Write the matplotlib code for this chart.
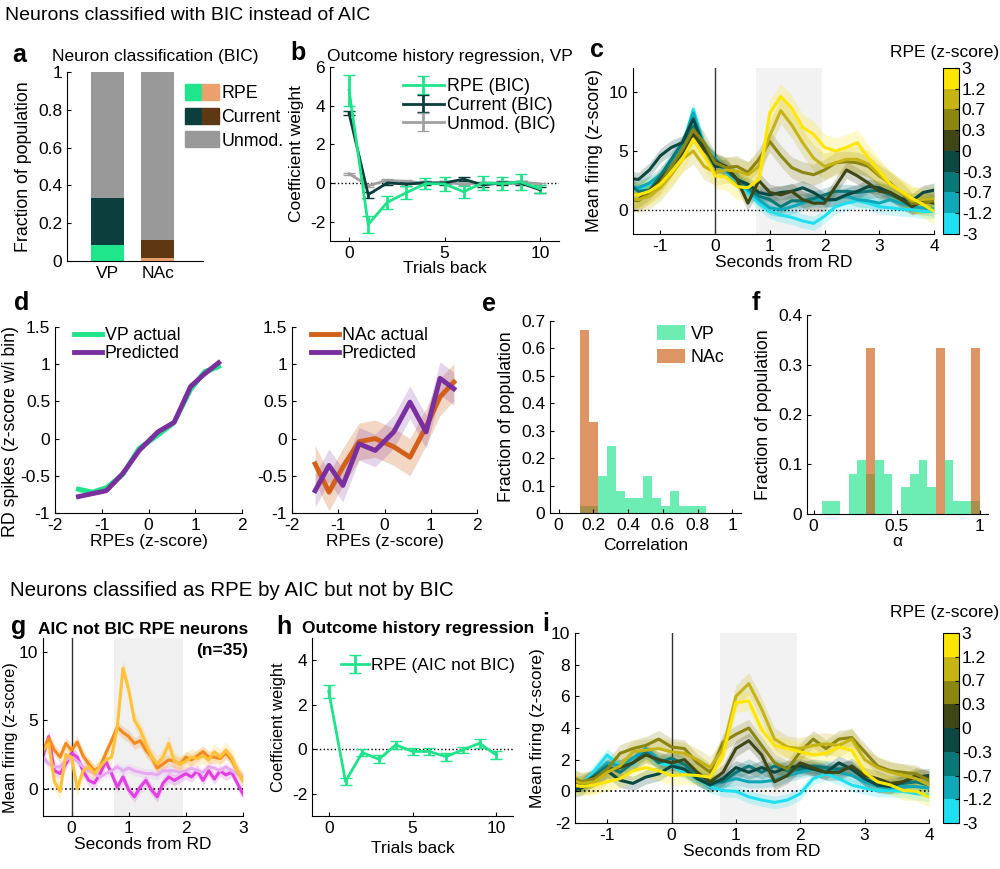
import numpy as np
import matplotlib
matplotlib.use('Agg')
import matplotlib.pyplot as plt
from matplotlib.patches import Patch
from matplotlib.legend_handler import HandlerTuple
from matplotlib.colors import ListedColormap, BoundaryNorm
from matplotlib.cm import ScalarMappable

plt.rcParams['font.family'] = ['Liberation Sans', 'DejaVu Sans']
plt.rcParams['font.size'] = 12.5
plt.rcParams['axes.unicode_minus'] = False
plt.rcParams['axes.linewidth'] = 0.8
plt.rcParams['xtick.direction'] = 'in'
plt.rcParams['ytick.direction'] = 'in'
plt.rcParams['xtick.major.size'] = 3
plt.rcParams['ytick.major.size'] = 3

# ---------------- data ----------------
# a: neuron classification
regions = ['VP', 'NAc']
frac_rpe = [0.085, 0.015]
frac_current = [0.25, 0.095]
frac_unmod = [0.665, 0.89]

# b: outcome history regression, VP
trials = np.arange(11)
b_rpe = [4.8, -2.15, -1.0, -0.5, -0.03, -0.05, -0.45, 0.0, -0.03, 0.05, -0.3]
b_rpe_err = [0.8, 0.45, 0.35, 0.35, 0.3, 0.35, 0.3, 0.35, 0.35, 0.4, 0.2]
b_cur = [3.6, -0.6, 0.0, -0.05, 0.0, 0.0, 0.2, -0.1, 0.0, 0.0, -0.35]
b_cur_err = [0.1, 0.15, 0.08, 0.08, 0.08, 0.08, 0.12, 0.1, 0.08, 0.08, 0.15]
b_unmod = [0.48, -0.14, 0.14, 0.08, 0.0, 0.02, -0.05, 0.0, 0.0, 0.05, -0.05]
b_unmod_err = [0.05, 0.05, 0.05, 0.05, 0.05, 0.05, 0.05, 0.05, 0.05, 0.05, 0.05]

# c / i: PSTHs by RPE bin (low -> high)
t_psth = np.round(np.arange(-1.6, 4.01, 0.2), 1)
rpe_bounds = [-3, -1.2, -0.7, -0.3, 0, 0.3, 0.7, 1.2, 3]
rpe_labels = ['-3', '-1.2', '-0.7', '-0.3', '0', '0.3', '0.7', '1.2', '3']
rpe_colors = ['#1ee0f0', '#10a8b8', '#0b7878', '#0c4842',
              '#3e4616', '#8a8610', '#c6b414', '#ffe600']
c_traces = [
    [2.0, 1.7, 2.2, 2.7, 3.9, 5.3, 8.5, 5.5, 4.3, 3.2, 2.5, 1.5, 0.6, -0.1, -0.4, -0.6, -0.9, -1.1, -0.5, 0.3, 0.6, 0.8, 0.6, 0.3, 0.2, 0.1, 0.05, -0.1, -0.1],
    [2.0, 1.9, 2.3, 3.0, 4.0, 5.4, 8.2, 5.4, 4.0, 3.3, 2.6, 1.7, 0.9, 0.2, 0.05, 0.3, 0.6, 0.9, 0.8, 0.9, 1.2, 0.9, 0.8, 0.6, 0.9, 0.6, 0.3, 0.2, 0.1],
    [2.3, 1.6, 1.7, 2.9, 4.3, 5.7, 7.1, 5.1, 4.3, 3.4, 2.6, 1.9, 1.2, 0.9, 0.3, 0.8, 0.8, 1.0, 1.3, 1.6, 1.6, 1.5, 1.6, 1.7, 1.3, 0.9, 0.6, 0.9, 1.0],
    [2.7, 2.6, 3.4, 4.6, 5.3, 5.7, 7.7, 5.4, 3.7, 3.7, 2.6, 2.2, 1.5, 1.3, 1.5, 1.6, 1.9, 1.5, 0.9, 0.9, 1.3, 1.6, 2.0, 1.9, 1.5, 1.0, 0.8, 1.5, 1.7],
    [0.8, 0.9, 1.6, 2.6, 3.7, 4.8, 6.4, 5.1, 4.1, 3.7, 2.6, 0.6, 2.5, 1.5, 1.3, 1.6, 0.9, 0.6, 0.6, 2.0, 3.4, 2.9, 2.3, 1.6, 1.5, 0.9, 0.3, 0.8, 0.6],
    [0.9, 0.8, 1.5, 2.3, 3.7, 5.1, 6.8, 5.7, 4.0, 3.6, 3.7, 3.2, 4.3, 5.8, 4.6, 3.6, 3.2, 3.0, 3.4, 4.0, 4.1, 4.0, 3.7, 2.9, 2.3, 1.5, 0.6, 0.6, 0.8],
    [1.0, 0.9, 1.2, 1.9, 3.0, 4.3, 5.0, 3.7, 3.2, 3.4, 3.3, 3.0, 3.7, 6.3, 8.4, 7.2, 5.7, 4.4, 3.7, 4.0, 4.3, 4.3, 3.9, 3.0, 2.2, 1.5, 0.8, 0.9, 1.0],
    [1.3, 1.3, 1.6, 2.2, 3.2, 4.3, 6.0, 4.6, 2.9, 2.8, 2.0, 1.9, 2.6, 8.2, 9.6, 8.6, 7.0, 6.4, 5.3, 5.0, 5.3, 5.7, 4.4, 3.3, 2.2, 1.6, 1.0, 0.5, -0.1],
]
c_sem = [0.6, 0.6, 0.6, 0.6, 0.7, 0.9, 1.1, 1.1]

i_traces = [
    [0.4, 0.4, 1.3, 2.3, 1.6, 1.7, 2.5, 1.8, 1.6, 1.2, 0.8, 0.3, 0.05, 0.0, -0.35, -0.55, -0.7, -0.55, -0.15, 0.8, 1.1, 0.8, 0.4, 0.2, 0.05, 0.05, 0.0, -0.15, -0.25],
    [0.5, 0.4, 1.0, 1.8, 1.6, 2.1, 2.7, 2.0, 1.8, 1.4, 0.8, 0.4, 0.6, 0.8, 0.6, 0.6, 0.7, 1.0, 1.2, 1.4, 1.5, 1.2, 1.0, 0.6, 0.3, 0.2, 0.3, 0.3, 0.2],
    [0.6, 0.4, 1.0, 1.6, 1.2, 1.8, 2.5, 1.8, 2.1, 1.7, 1.0, 0.6, 0.6, 1.2, 1.6, 1.2, 1.6, 1.3, 1.4, 1.6, 1.5, 1.4, 1.5, 0.8, 0.4, 0.4, 0.5, 0.6, 0.4],
    [0.0, 0.2, 0.8, 1.3, 0.7, 0.5, 0.9, 1.1, 1.6, 1.4, 0.8, 0.4, 0.8, 1.5, 1.2, 1.5, 1.2, 1.5, 1.6, 1.4, 1.2, 1.8, 1.4, 0.8, 0.4, 0.3, 0.6, 0.9, 1.0],
    [0.4, 0.5, 0.9, 1.3, 1.5, 1.8, 2.3, 2.0, 1.8, 2.0, 1.2, 0.6, 1.2, 2.7, 3.2, 2.3, 0.6, 1.0, 1.8, 1.5, 1.2, 1.2, 1.6, 1.0, 0.8, 0.5, 0.6, 1.0, 0.8],
    [1.0, 0.6, 0.8, 1.4, 2.4, 2.7, 2.9, 3.3, 2.8, 2.7, 1.8, 1.2, 3.1, 3.6, 4.0, 2.9, 1.8, 1.4, 2.5, 3.3, 2.7, 3.3, 3.4, 2.5, 1.6, 1.3, 1.2, 1.1, 0.7],
    [0.8, 0.5, 0.6, 1.2, 1.6, 2.5, 2.6, 2.7, 2.5, 2.4, 2.0, 1.5, 2.7, 6.0, 6.8, 5.2, 3.3, 2.8, 2.7, 2.9, 3.0, 2.9, 3.3, 2.0, 1.5, 1.2, 1.0, 0.8, 0.4],
    [0.5, 0.3, 0.4, 0.6, 0.8, 1.3, 1.5, 1.3, 1.0, 1.05, 1.0, 0.9, 2.3, 5.6, 5.7, 3.9, 2.9, 2.7, 2.5, 2.3, 2.4, 2.8, 2.6, 1.2, 0.6, 0.4, 0.05, 0.0, -0.35],
]
i_sem = [0.4, 0.4, 0.45, 0.45, 0.5, 0.55, 0.7, 0.6]

# d: RPE tuning
rpe_bins = [-1.5, -1.2, -0.9, -0.55, -0.2, 0.2, 0.55, 0.9, 1.2, 1.5]
vp_actual = [-0.68, -0.72, -0.66, -0.48, -0.13, 0.05, 0.22, 0.66, 0.90, 0.97]
vp_pred = [-0.78, -0.74, -0.70, -0.47, -0.16, 0.09, 0.22, 0.70, 0.87, 1.02]
nac_actual = [-0.34, -0.72, -0.38, -0.04, 0.0, -0.11, -0.25, 0.16, 0.56, 0.76]
nac_pred = [-0.70, -0.36, -0.63, -0.07, -0.16, 0.09, 0.49, 0.09, 0.81, 0.67]

# e: correlation histogram
e_bin_start, e_bin_w = 0.123, 0.052
e_vp = [0.027, 0.027, 0.135, 0.243, 0.081, 0.054, 0.054, 0.135, 0.054, 0.027, 0.081, 0.027, 0.027, 0.027]
e_nac = [0.667, 0.333]

# f: alpha histogram (bins of 1/19)
f_vp = [0, 0.027, 0.027, 0, 0.081, 0.108, 0.081, 0.108, 0.081, 0, 0.054, 0.081, 0.108, 0.054, 0, 0.108, 0.027, 0.027, 0.027]
f_nac = [0, 0, 0, 0, 0, 0, 0.333, 0, 0, 0, 0, 0, 0, 0, 0.333, 0, 0, 0, 0.333]

# g: AIC-not-BIC RPE neurons
t_g = np.round(np.arange(-0.5, 3.01, 0.1), 1)
g_traces = [
    [2.4, 3.8, 1.3, 1.1, 1.8, 2.6, 2.3, 1.3, 0.6, 0.4, 1.1, 2.0, 1.1, 0.1, 0.85, -0.1, -0.6, 0.1, 0.6, -0.1, -0.6, 0.4, 0.85, 0.6, 0.85, 1.1, 0.85, 1.3, 0.6, 1.3, 0.7, 1.3, 1.0, 1.2, 0.4, -0.4],
    [2.3, 1.8, 1.6, 1.6, 2.1, 2.3, 2.0, 1.6, 1.3, 1.1, 0.85, 1.1, 1.3, 1.6, 1.3, 1.5, 1.3, 1.2, 1.1, 1.1, 1.0, 1.3, 1.3, 1.3, 1.2, 1.3, 1.5, 1.3, 1.2, 1.6, 1.5, 1.3, 1.6, 1.3, 1.1, 0.85],
    [2.7, 3.7, 2.8, 2.3, 3.3, 2.8, 3.4, 2.4, 1.8, 1.3, 1.6, 2.6, 3.5, 4.5, 4.1, 3.8, 3.3, 3.5, 2.8, 2.3, 1.5, 1.8, 2.1, 2.0, 1.8, 2.3, 2.1, 2.4, 2.7, 2.3, 2.3, 2.2, 2.6, 2.1, 1.3, 0.6],
    [2.8, 3.3, 0.5, -0.2, 2.5, 2.3, 0.0, 1.3, 1.6, 1.1, 1.6, 2.1, 2.3, 4.5, 8.8, 7.2, 5.0, 4.3, 3.3, 2.3, 1.8, 2.3, 3.3, 2.0, 1.8, 2.0, 2.3, 2.2, 2.4, 2.1, 2.7, 2.3, 2.8, 2.3, 1.3, 0.6],
]
g_colors = ['#e23fe0', '#e6aaf2', '#f28a1e', '#ffc23a']
g_sem = [0.4, 0.35, 0.45, 0.6]

# h: outcome history regression (AIC not BIC)
h_rpe = [2.6, -1.45, -0.15, -0.45, 0.2, -0.1, -0.1, -0.33, -0.03, 0.27, -0.26]
h_err = [0.3, 0.15, 0.15, 0.18, 0.18, 0.17, 0.15, 0.18, 0.15, 0.2, 0.2]

GREEN = '#1fe38a'
TEAL = '#0b3d3a'
GREY = '#a0a0a0'
ORANGE = '#d2601a'
PURPLE = '#7a2f9e'
TFS = 12.5

# ---------------- figure ----------------
fig = plt.figure(figsize=(10, 8.69), dpi=100)
W, H = 1000.0, 869.0


def box(x0, y0, x1, y1):
    ax = fig.add_axes([x0 / W, 1 - y1 / H, (x1 - x0) / W, (y1 - y0) / H])
    ax.spines['top'].set_visible(False)
    ax.spines['right'].set_visible(False)
    return ax


def ftext(x, y, s, **kw):
    fig.text(x / W, 1 - y / H, s, **kw)


def plabel(x, y, s):
    ftext(x, y, s, fontsize=18, fontweight='bold', va='center', ha='left')


ftext(5, 16, 'Neurons classified with BIC instead of AIC', fontsize=14, va='center')
ftext(10, 590, 'Neurons classified as RPE by AIC but not by BIC', fontsize=14.8, va='center')

# a
ax = box(67, 72, 203, 261)
xpos = np.arange(1, len(regions) + 1)
rpe_cols = ['#1fe68a', '#eba06e']
cur_cols = ['#0c3e3e', '#5e3713']
ax.bar(xpos, frac_rpe, 0.66, color=rpe_cols)
ax.bar(xpos, frac_current, 0.66, bottom=frac_rpe, color=cur_cols)
ax.bar(xpos, frac_unmod, 0.66, bottom=np.add(frac_rpe, frac_current), color='#999999')
ax.set_xlim(0.2, 2.9)
ax.set_ylim(0, 1)
ax.set_xticks(xpos)
ax.set_xticklabels(regions)
ax.tick_params(axis='x', length=0)
ax.set_yticks([0, 0.2, 0.4, 0.6, 0.8, 1])
ax.set_yticklabels(['0', '0.2', '0.4', '0.6', '0.8', '1'])
ax.set_ylabel('Fraction of population', fontsize=12.8)
handles = [(Patch(color=rpe_cols[0]), Patch(color=rpe_cols[1])),
           (Patch(color=cur_cols[0]), Patch(color=cur_cols[1])),
           Patch(color='#999999')]
fig.legend(handles, ['RPE', 'Current', 'Unmod.'], loc='upper left',
           bbox_to_anchor=(185 / W, 1 - 84 / H), frameon=False,
           handler_map={tuple: HandlerTuple(ndivide=None, pad=0)},
           handlelength=1.9, handleheight=1.0, handletextpad=0.15,
           labelspacing=0.32, borderpad=0, borderaxespad=0, fontsize=12.8)
ftext(155, 57, 'Neuron classification (BIC)', ha='center', va='center', fontsize=TFS)
plabel(12, 55, 'a')

# b
ax = box(330, 67, 559, 241)
ax.axhline(0, color='k', ls=':', lw=1)
ax.errorbar(trials, b_unmod, yerr=b_unmod_err, color=GREY, lw=2, capsize=4, label='Unmod. (BIC)')
ax.errorbar(trials, b_cur, yerr=b_cur_err, color=TEAL, lw=2, capsize=4, label='Current (BIC)')
ax.errorbar(trials, b_rpe, yerr=b_rpe_err, color=GREEN, lw=2, capsize=4, label='RPE (BIC)')
ax.set_xlim(-1, 11)
ax.set_ylim(-3, 6)
ax.set_xticks([0, 5, 10])
ax.set_yticks([-2, 0, 2, 4, 6])
ax.set_xlabel('Trials back', labelpad=0)
ax.set_ylabel('Coefficient weight')
hnd, lab = ax.get_legend_handles_labels()
ax.legend(hnd[::-1], lab[::-1], loc='upper left', bbox_to_anchor=(403 / W, 1 - 78 / H),
          bbox_transform=fig.transFigure, frameon=False, handlelength=2.3,
          handletextpad=0.15, labelspacing=0.1, borderpad=0, borderaxespad=0, fontsize=12.8)
ftext(450, 57, 'Outcome history regression, VP', ha='center', va='center', fontsize=TFS)
plabel(290, 53, 'b')

cmap = ListedColormap(rpe_colors)
norm = BoundaryNorm(rpe_bounds, cmap.N)


def psth(ax, t, traces, sems, colors):
    for y, s, col in zip(traces, sems, colors):
        y = np.asarray(y)
        ax.fill_between(t, y - s, y + s, color=col, alpha=0.22, lw=0)
    for y, col in zip(traces, colors):
        ax.plot(t, y, color=col, lw=2.2)


def colorbar(y0, y1, ty):
    cax = fig.add_axes([943 / W, 1 - y1 / H, 16 / W, (y1 - y0) / H])
    cb = fig.colorbar(ScalarMappable(norm=norm, cmap=cmap), cax=cax,
                      spacing='uniform', ticks=rpe_bounds)
    cb.ax.set_yticklabels(rpe_labels)
    cb.ax.tick_params(length=3, direction='in', pad=2)
    cb.outline.set_linewidth(0.8)
    ftext(999, ty, 'RPE (z-score)', ha='right', va='center')


# c
ax = box(633, 68, 934, 234)
ax.axvspan(0.75, 1.95, color='#f2f2f2', lw=0)
ax.axhline(0, color='k', ls=':', lw=1)
ax.axvline(0, color='#333333', lw=1)
psth(ax, t_psth, c_traces, c_sem, rpe_colors)
ax.set_xlim(-1.5, 4)
ax.set_ylim(-2, 12)
ax.set_xticks([-1, 0, 1, 2, 3, 4])
ax.set_yticks([0, 5, 10])
ax.set_xlabel('Seconds from RD', labelpad=1)
ax.set_ylabel('Mean firing (z-score)', fontsize=12.8)
colorbar(68, 234, 53)
plabel(590, 50, 'c')

# d
axl = box(55, 327, 242, 513)
axl.fill_between(rpe_bins, np.array(vp_actual) - 0.04, np.array(vp_actual) + 0.04, color=GREEN, alpha=0.4, lw=0)
axl.plot(rpe_bins, vp_actual, color=GREEN, lw=3.5, label='VP actual')
axl.plot(rpe_bins, vp_pred, color=PURPLE, lw=3.5, label='Predicted')
axl.set_ylabel('RD spikes (z-score w/i bin)', fontsize=12.8)
axl.yaxis.set_label_coords(-0.19, 0.44)
axr = box(292, 327, 477, 513)
axr.fill_between(rpe_bins, np.array(nac_actual) - 0.25, np.array(nac_actual) + 0.25, color=ORANGE, alpha=0.25, lw=0)
axr.fill_between(rpe_bins, np.array(nac_pred) - 0.22, np.array(nac_pred) + 0.22, color=PURPLE, alpha=0.2, lw=0)
axr.plot(rpe_bins, nac_actual, color=ORANGE, lw=3.5, label='NAc actual')
axr.plot(rpe_bins, nac_pred, color=PURPLE, lw=3.5, label='Predicted')
for ax in (axl, axr):
    ax.set_xlim(-2, 2)
    ax.set_ylim(-1, 1.5)
    ax.set_xticks([-2, -1, 0, 1, 2])
    ax.set_yticks([-1, -0.5, 0, 0.5, 1, 1.5])
    ax.set_yticklabels(['-1', '-0.5', '0', '0.5', '1', '1.5'])
    ax.set_xlabel('RPEs (z-score)', labelpad=1)
    ax.legend(loc='upper left', bbox_to_anchor=(0.1, 1.0), frameon=False, handlelength=1.6,
              handletextpad=0.15, labelspacing=0.05, borderpad=0, borderaxespad=0, fontsize=12.8)
plabel(14, 303, 'd')

# e
VPH = '#1fe38a'
NAH = '#cc5c14'
ax = box(550, 321, 741, 513)
ax.bar(e_bin_start + e_bin_w * np.arange(len(e_vp)), e_vp, e_bin_w, align='edge', color=VPH, alpha=0.65, lw=0, label='VP')
ax.bar(e_bin_start + e_bin_w * np.arange(len(e_nac)), e_nac, e_bin_w, align='edge', color=NAH, alpha=0.65, lw=0, label='NAc')
ax.set_xlim(-0.05, 1.05)
ax.set_ylim(0, 0.7)
ax.set_xticks([0, 0.2, 0.4, 0.6, 0.8, 1])
ax.set_xticklabels(['0', '0.2', '0.4', '0.6', '0.8', '1'])
ax.set_yticks(np.arange(0, 0.71, 0.1))
ax.set_yticklabels(['0', '0.1', '0.2', '0.3', '0.4', '0.5', '0.6', '0.7'])
ax.set_xlabel('Correlation')
ax.set_ylabel('Fraction of population', fontsize=12.8)
ax.legend(loc='upper left', bbox_to_anchor=(657 / W, 1 - 325 / H), bbox_transform=fig.transFigure,
          frameon=False, handlelength=1.6, handleheight=0.9, handletextpad=0.3,
          labelspacing=0.35, borderpad=0, borderaxespad=0, fontsize=12.8)
plabel(482, 304, 'e')

# f
ax = box(807, 315, 988, 514)
fw = 1 / 19
ax.bar(fw * np.arange(len(f_vp)), f_vp, fw, align='edge', color=VPH, alpha=0.65, lw=0)
ax.bar(fw * np.arange(len(f_nac)), f_nac, fw, align='edge', color=NAH, alpha=0.65, lw=0)
ax.set_xlim(-0.04, 1.05)
ax.set_ylim(0, 0.4)
ax.set_xticks([0, 0.5, 1])
ax.set_xticklabels(['0', '0.5', '1'])
ax.set_yticks([0, 0.1, 0.2, 0.3, 0.4])
ax.set_yticklabels(['0', '0.1', '0.2', '0.3', '0.4'])
ax.set_xlabel('α', labelpad=0)
ax.set_ylabel('Fraction of population', fontsize=12.8)
plabel(752, 303, 'f')

# g
ax = box(43, 638, 243, 816)
ax.axvspan(0.75, 1.95, color='#f0f0f0', lw=0)
ax.axhline(0, color='k', ls=':', lw=1.2)
ax.axvline(0, color='#333333', lw=1)
psth(ax, t_g, g_traces, g_sem, g_colors)
ax.set_xlim(-0.5, 3)
ax.set_ylim(-2, 11)
ax.set_xticks([0, 1, 2, 3])
ax.set_yticks([0, 5, 10])
ax.set_xlabel('Seconds from RD', labelpad=1)
ax.set_ylabel('Mean firing (z-score)', fontsize=11.8)
ax.yaxis.set_label_coords(-0.125, 0.44)
ftext(248, 629, 'AIC not BIC RPE neurons', ha='right', va='center', fontweight='bold', fontsize=TFS)
ftext(248, 650, '(n=35)', ha='right', va='center', fontweight='bold', fontsize=TFS)
plabel(11, 627, 'g')

# h
ax = box(312, 638, 513, 816)
ax.axhline(0, color='k', ls=':', lw=1)
ax.errorbar(trials, h_rpe, yerr=h_err, color=GREEN, lw=2, capsize=4, label='RPE (AIC not BIC)')
ax.set_xlim(-1, 11)
ax.set_ylim(-3, 5)
ax.set_xticks([0, 5, 10])
ax.set_yticks([-2, 0, 2, 4])
ax.set_xlabel('Trials back')
ax.set_ylabel('Coefficient weight', fontsize=11.8)
ax.legend(loc='upper left', bbox_to_anchor=(341 / W, 1 - 658 / H), bbox_transform=fig.transFigure,
          frameon=False, handlelength=1.6, handletextpad=0.1, borderpad=0, borderaxespad=0)
ftext(302, 629, 'Outcome history regression', ha='left', va='center', fontweight='bold', fontsize=TFS)
plabel(276, 627, 'h')

# i
ax = box(575, 633, 929, 823)
ax.axvspan(0.75, 1.95, color='#f2f2f2', lw=0)
ax.axhline(0, color='k', ls=':', lw=1.2)
ax.axvline(0, color='#333333', lw=1)
psth(ax, t_psth, i_traces, i_sem, rpe_colors)
ax.set_xlim(-1.5, 4)
ax.set_ylim(-2, 10)
ax.set_xticks([-1, 0, 1, 2, 3, 4])
ax.set_yticks([-2, 0, 2, 4, 6, 8, 10])
ax.set_xlabel('Seconds from RD', labelpad=1)
ax.set_ylabel('Mean firing (z-score)')
colorbar(633, 823, 613)
plabel(542, 624, 'i')

fig.savefig('out.png', dpi=100)
